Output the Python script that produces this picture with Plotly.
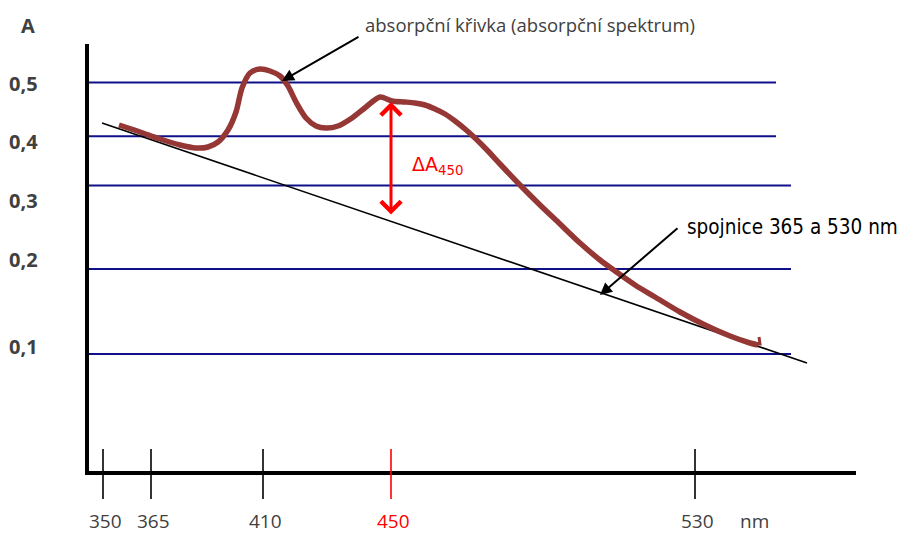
import plotly.graph_objects as go

# --- sketch data (drawing units of the original sketch; not to scale) ---
x_tick_pos = [103, 151, 263, 391, 695]
x_tick_labels = ["350", "365", "410", "450", "530"]
x_tick_colors = ["black", "black", "black", "red", "black"]
x_label_colors = ["#404040", "#404040", "#404040", "red", "#404040"]

y_label_pos = [83, 141, 200, 259, 346]
y_labels = ["0,5", "0,4", "0,3", "0,2", "0,1"]

grid_y = [82.5, 136.3, 185.5, 269, 354]
grid_x_end = [776, 776, 791, 791, 791]

curve_x = [119, 140, 160, 180, 196, 208, 218, 228, 236, 242, 250, 260, 270, 280, 288,
           296, 306, 316, 326, 338, 352, 366, 380, 392, 405, 415, 425, 435, 445, 455,
           465, 475, 487, 500, 520, 540, 560, 580, 600, 615, 635, 655, 680, 705, 730,
           750, 758]
curve_y = [125, 132, 139, 145, 148, 147, 142, 130, 112, 88, 73, 69, 71, 76, 86,
           102, 118, 126, 128, 126, 118, 107, 97, 101, 102, 103, 105, 109, 114, 121,
           129, 138, 150, 164, 185, 205, 224, 243, 260, 271, 285, 297, 312, 325, 336,
           343, 345]
hook_x = [755, 760, 759]
hook_y = [344, 344, 337]

baseline_x = [102, 807]
baseline_y = [123, 363]

fig = go.Figure()

# gridlines
for gy, gx in zip(grid_y, grid_x_end):
    fig.add_trace(go.Scatter(x=[88, gx], y=[gy, gy], mode="lines",
                             line=dict(color="#10108a", width=2), hoverinfo="skip"))

# baseline 365-530
fig.add_trace(go.Scatter(x=baseline_x, y=baseline_y, mode="lines",
                         line=dict(color="black", width=1.6), hoverinfo="skip"))

# absorption curve
fig.add_trace(go.Scatter(x=curve_x, y=curve_y, mode="lines",
                         line=dict(color="#953735", width=5.5, shape="spline", smoothing=0.8),
                         hoverinfo="skip"))
fig.add_trace(go.Scatter(x=hook_x, y=hook_y, mode="lines",
                         line=dict(color="#953735", width=3), hoverinfo="skip"))

# axes
fig.add_trace(go.Scatter(x=[87, 87, 856], y=[44, 473, 473], mode="lines",
                         line=dict(color="black", width=4), hoverinfo="skip"))

# x ticks
for xp, c in zip(x_tick_pos, x_tick_colors):
    fig.add_trace(go.Scatter(x=[xp, xp], y=[449, 499], mode="lines",
                             line=dict(color=c, width=1.6), hoverinfo="skip"))

ann = []
for xp, lab, c in zip(x_tick_pos, x_tick_labels, x_label_colors):
    ann.append(dict(x=xp + 2, y=521, text=lab, showarrow=False, xref="x", yref="y",
                    borderpad=0, font=dict(family="Open Sans", size=19, color=c)))
ann.append(dict(x=754, y=521, text="nm", showarrow=False, xref="x", yref="y",
                borderpad=0, font=dict(family="Open Sans", size=19, color="#404040")))

for yp, lab in zip(y_label_pos, y_labels):
    ann.append(dict(x=23, y=yp, text="<b>%s</b>" % lab, showarrow=False, xref="x", yref="y",
                    font=dict(family="Open Sans", size=20, color="#404040")))
ann.append(dict(x=28, y=25, text="<b>A</b>", showarrow=False, xref="x", yref="y",
                font=dict(family="Open Sans", size=20, color="#404040")))

# curve label + arrow
ann.append(dict(x=363, y=24, text="absorpční křivka (absorpční spektrum)", showarrow=False,
                xanchor="left", xref="x", yref="y",
                font=dict(family="Open Sans", size=18.5, color="#404040")))
ann.append(dict(x=282, y=81, ax=360, ay=36, xref="x", yref="y", axref="x", ayref="y",
                text="", showarrow=True, arrowhead=2, arrowsize=1.2, arrowwidth=2,
                arrowcolor="black"))

# baseline label + arrow
ann.append(dict(x=685, y=227, text="spojnice 365 a 530 nm", showarrow=False, xanchor="left",
                xref="x", yref="y",
                font=dict(family="DejaVu Sans Condensed", size=20.5, color="black")))
ann.append(dict(x=600, y=295, ax=679, ay=227, xref="x", yref="y", axref="x", ayref="y",
                text="", showarrow=True, arrowhead=2, arrowsize=1.2, arrowwidth=2,
                arrowcolor="black"))

# delta A arrow
ann.append(dict(x=391, y=102, ax=391, ay=216, xref="x", yref="y", axref="x", ayref="y",
                text="", showarrow=True, arrowhead=4, startarrowhead=4, arrowside="end+start",
                arrowsize=1.3, arrowwidth=3, arrowcolor="red"))
ann.append(dict(x=410, y=165, text="ΔA<sub>450</sub>", showarrow=False, xanchor="left",
                xref="x", yref="y", font=dict(family="DejaVu Sans", size=19, color="red")))

fig.update_layout(
    width=901, height=534,
    margin=dict(l=0, r=0, t=0, b=0),
    paper_bgcolor="white", plot_bgcolor="white",
    showlegend=False,
    xaxis=dict(range=[0, 901], visible=False, fixedrange=True),
    yaxis=dict(range=[534, 0], visible=False, fixedrange=True),
    annotations=ann,
)

fig.write_html("out.html")
